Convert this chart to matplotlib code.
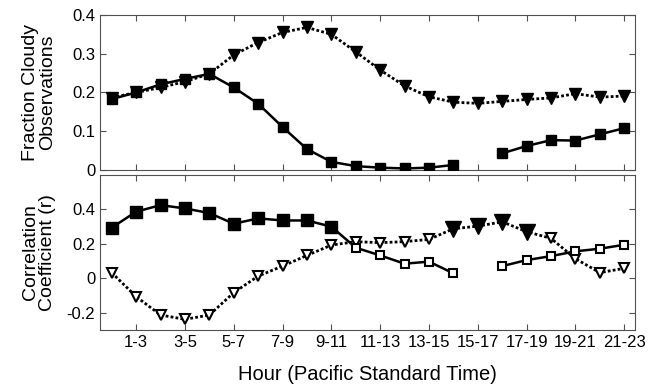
import numpy as np
import matplotlib
matplotlib.use('Agg')
import matplotlib.pyplot as plt

plt.rcParams['font.family'] = ['Liberation Sans', 'DejaVu Sans']

# x positions: one point per 2-hour window, labels on every other one
hours = np.arange(22)
tick_pos = [1, 3, 5, 7, 9, 11, 13, 15, 17, 19, 21]
tick_labels = ['1-3', '3-5', '5-7', '7-9', '9-11', '11-13', '13-15',
               '15-17', '17-19', '19-21', '21-23']

nan = np.nan
# top panel: fraction of cloudy observations
frac_sq = [0.183, 0.200, 0.221, 0.235, 0.248, 0.213, 0.171, 0.111, 0.054, 0.021, 0.010,
           0.006, 0.004, 0.006, 0.013, nan, 0.043, 0.062, 0.077, 0.076, 0.092, 0.108]
frac_tri = [0.187, 0.200, 0.213, 0.228, 0.248, 0.297, 0.329, 0.355, 0.368, 0.350, 0.305,
            0.258, 0.217, 0.189, 0.175, 0.172, 0.177, 0.182, 0.186, 0.197, 0.188, 0.191]

# bottom panel: correlation coefficient, with significance flags (filled markers)
corr_sq = [0.294, 0.387, 0.425, 0.406, 0.379, 0.317, 0.348, 0.336, 0.336, 0.300, 0.178,
           0.133, 0.085, 0.097, 0.029, nan, 0.071, 0.106, 0.129, 0.157, 0.172, 0.195]
sig_sq = [True] * 10 + [False] * 12
corr_tri = [0.033, -0.106, -0.213, -0.238, -0.213, -0.083, 0.013, 0.071, 0.133, 0.193, 0.213,
            0.207, 0.213, 0.226, 0.288, 0.303, 0.328, 0.271, 0.232, 0.114, 0.033, 0.058]
sig_tri = [False] * 14 + [True] * 4 + [False] * 4

top_yticks = [0, 0.1, 0.2, 0.3, 0.4]
top_ylabels = ['0', '0.1', '0.2', '0.3', '0.4']
bot_yticks = [-0.2, 0, 0.2, 0.4]
bot_ylabels = ['-0.2', '0', '0.2', '0.4']

fig = plt.figure(figsize=(6.55, 3.85), dpi=100)
ax1 = fig.add_axes([100 / 655, 1 - 170 / 385, 534.5 / 655, 155 / 385])
ax2 = fig.add_axes([100 / 655, 1 - 330 / 385, 534.5 / 655, 155 / 385])

dotted = (0, (1, 0.8))
spine_col = '#505050'

# top panel
ax1.plot(hours, frac_tri, color='black', lw=2, linestyle=dotted,
         marker='v', markersize=8.5, markerfacecolor='black', markeredgecolor='black', zorder=2)
ax1.plot(hours, frac_sq, color='black', lw=1.8, linestyle='-',
         marker='s', markersize=7, markerfacecolor='black', markeredgecolor='black', zorder=3)
ax1.set_ylim(0, 0.4)
ax1.set_yticks(top_yticks)
ax1.set_yticklabels(top_ylabels)

# bottom panel
sq = np.array(corr_sq)
tri = np.array(corr_tri)
s_sq = np.array(sig_sq)
s_tri = np.array(sig_tri)
ax2.plot(hours, tri, color='black', lw=2, linestyle=dotted, zorder=2)
ax2.plot(hours[~s_tri], tri[~s_tri], linestyle='none', marker='v', markersize=7,
         markerfacecolor='white', markeredgecolor='black', markeredgewidth=1.5, zorder=4)
ax2.plot(hours[s_tri], tri[s_tri], linestyle='none', marker='v', markersize=11,
         markerfacecolor='black', markeredgecolor='black', zorder=4)
ax2.plot(hours, sq, color='black', lw=1.8, linestyle='-', zorder=3)
ax2.plot(hours[~s_sq], sq[~s_sq], linestyle='none', marker='s', markersize=5.5,
         markerfacecolor='white', markeredgecolor='black', markeredgewidth=1.5, zorder=5)
ax2.plot(hours[s_sq], sq[s_sq], linestyle='none', marker='s', markersize=8.5,
         markerfacecolor='black', markeredgecolor='black', zorder=5)
ax2.set_ylim(-0.3, 0.6)
ax2.set_yticks(bot_yticks)
ax2.set_yticklabels(bot_ylabels)

for ax in (ax1, ax2):
    ax.set_xlim(-0.48, 21.42)
    ax.set_xticks(tick_pos)
    for sp in ax.spines.values():
        sp.set_color(spine_col)
        sp.set_linewidth(0.8)
    ax.tick_params(direction='in', length=4, width=0.8, color=spine_col,
                   top=True, right=True, labelsize=12, pad=3.5)

ax1.set_xticklabels([])
ax2.set_xticklabels(tick_labels)
ax1.set_ylabel('Fraction Cloudy\nObservations', fontsize=14, linespacing=0.98)
ax2.set_ylabel('Correlation\nCoefficient (r)', fontsize=14, linespacing=0.98)
ax1.yaxis.set_label_coords(-0.083, 0.5)
ax2.yaxis.set_label_coords(-0.083, 0.5)
ax2.set_xlabel('Hour (Pacific Standard Time)', fontsize=14.5)
ax2.xaxis.set_label_coords(0.5, -0.225)

fig.savefig('out.png', dpi=100)
